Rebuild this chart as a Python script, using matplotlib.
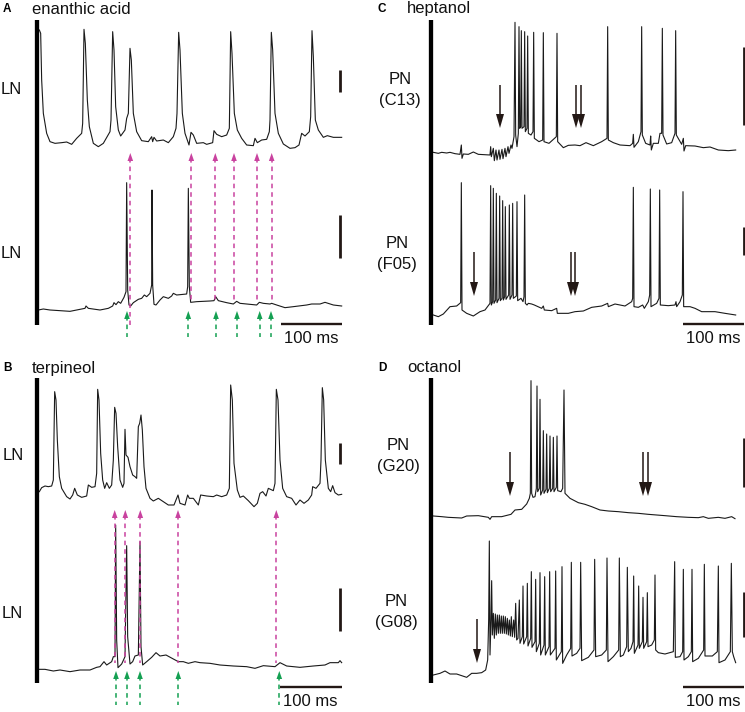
#!/usr/bin/env python3
import matplotlib
matplotlib.use("Agg")
import matplotlib.pyplot as plt
import numpy as np

plt.rcParams["font.family"] = ["Liberation Sans", "DejaVu Sans"]

# traces at 3x zoom, (x, y) in zoomed pixels
trace_a_top = [(118,90),(122,100),(125,240),(130,340),(140,400),(150,425),(165,430),(185,428),(200,426),(215,433),
    (230,415),(245,400),(248,370),(252,88),(256,130),(262,300),(268,380),(280,430),(295,440),(310,430),(330,395),
    (333,360),(338,95),(342,150),(347,320),(355,390),(362,408),(375,390),(380,355),(385,340),(390,145),(394,180),
    (400,340),(410,395),(425,422),(445,425),(455,410),(458,425),(462,412),(470,423),(490,420),(505,428),(520,410),
    (528,385),(531,340),(536,97),(540,150),(547,340),(555,400),(567,435),(573,397),(580,405),(590,430),(610,428),
    (620,433),(638,428),(642,392),(650,403),(665,410),(680,405),(688,385),(692,95),(696,160),(703,340),(712,390),
    (725,415),(740,435),(760,437),(765,415),(772,428),(785,420),(800,418),(808,395),(810,360),(814,97),(818,150),
    (825,340),(835,400),(850,432),(870,445),(885,443),(897,435),(905,400),(915,408),(928,395),(932,350),(936,92),
    (940,170),(946,360),(955,390),(970,412),(982,407),(1000,412),(1025,412)]
trace_a_bottom = [(115,420),(130,417),(150,420),(180,422),(210,424),(240,418),(255,415),(258,408),(265,415),(300,420),
    (325,415),(338,408),(342,398),(348,404),(355,395),(362,400),(372,382),(378,365),(380,38),(383,360),(387,405),
    (392,408),(400,398),(415,388),(425,385),(433,375),(440,380),(450,370),(455,345),(456,60),(458,345),(462,403),
    (468,405),(480,390),(490,380),(505,385),(515,378),(520,370),(530,375),(560,372),(563,350),(565,55),(568,350),
    (572,397),(590,395),(630,393),(642,392),(647,380),(655,392),(680,398),(700,402),(710,394),(720,400),(770,405),
    (778,397),(790,400),(810,402),(815,400),(830,405),(855,413),(880,410),(920,405),(935,402),(960,402),(975,397),
    (1000,405),(1025,408)]
trace_b_top = [(118,395),(125,383),(135,378),(145,380),(155,378),(160,360),(164,95),(168,120),(172,240),(178,350),
    (185,385),(200,410),(210,417),(218,405),(224,385),(232,405),(245,412),(260,408),(265,375),(275,382),(285,380),
    (290,340),(293,88),(297,120),(302,280),(308,360),(314,385),(320,368),(328,385),(335,375),(340,300),(344,142),
    (348,160),(353,260),(360,360),(368,382),(372,370),(375,208),(378,285),(384,292),(390,320),(398,345),(405,350),
    (410,355),(415,200),(419,190),(423,165),(427,210),(432,320),(438,385),(450,415),(460,423),(475,415),(490,425),
    (505,435),(522,435),(528,420),(534,405),(540,430),(555,435),(563,405),(568,415),(580,415),(595,435),(602,405),
    (620,408),(640,410),(650,405),(665,410),(680,405),(688,385),(692,75),(697,120),(702,310),(712,390),(720,412),
    (730,408),(745,422),(762,440),(772,430),(780,400),(788,395),(798,408),(805,385),(820,392),(825,370),(829,88),
    (834,120),(840,300),(848,385),(860,410),(875,415),(888,435),(900,420),(912,430),(925,420),(935,405),(938,380),
    (948,385),(960,370),(963,300),(967,83),(971,120),(976,300),(985,385),(992,395),(998,377),(1005,398),(1015,405),
    (1025,403)]
trace_b_bottom = [(115,448),(135,448),(160,453),(180,450),(210,455),(240,450),(270,450),(290,442),(300,440),(312,425),
    (320,435),(335,425),(340,410),(345,410),(347,15),(350,360),(354,443),(365,432),(375,410),(380,77),(383,350),
    (390,432),(398,425),(405,408),(415,405),(420,65),(423,380),(428,435),(440,425),(455,412),(468,398),(480,408),
    (498,405),(520,417),(535,425),(550,425),(565,430),(585,425),(600,428),(630,430),(660,435),(700,438),(740,440),
    (765,445),(790,437),(825,440),(840,428),(860,438),(900,442),(940,438),(975,435),(990,428),(1015,428),(1020,422),
    (1025,428)]
trace_c_top = [(175,457),(190,460),(200,457),(215,459),(225,457),(240,461),(255,463),(259,435),(261,475),(265,462),
    (280,463),(295,456),(310,463),(345,465),(347,440),(349,470),(355,445),(358,482),(363,450),(366,480),(372,450),
    (375,478),(381,448),(384,476),(390,445),(393,470),(399,440),(402,460),(408,435),(411,445),(417,410),(420,67),
    (422,405),(426,440),(430,400),(432,80),(434,385),(437,380),(439,92),(441,385),(447,380),(449,95),(451,395),
    (456,385),(458,108),(460,400),(468,405),(474,395),(476,97),(478,415),(492,425),(503,420),(505,98),(507,425),
    (522,430),(544,410),(546,100),(548,425),(565,443),(580,436),(600,435),(615,437),(633,428),(655,437),(680,425),
    (696,415),(698,80),(700,420),(715,428),(735,435),(765,437),(773,430),(775,403),(777,442),(790,425),(798,395),
    (800,80),(802,405),(812,430),(825,435),(827,408),(829,450),(835,430),(850,430),(855,400),(860,400),(862,85),
    (864,405),(875,432),(890,428),(900,400),(902,92),(904,405),(920,433),(925,415),(927,453),(932,437),(960,438),
    (985,443),(1005,441),(1030,450),(1060,452),(1082,450)]
trace_c_bottom = [(175,435),(190,440),(205,432),(225,410),(245,408),(257,398),(259,38),(261,420),(275,430),(295,438),
    (315,425),(330,420),(345,400),(347,47),(349,405),(353,395),(355,55),(357,400),(362,390),(364,70),(366,398),
    (372,385),(374,78),(376,392),(381,385),(383,92),(385,390),(389,380),(391,110),(393,388),(401,375),(403,105),
    (405,388),(411,375),(413,100),(415,385),(424,378),(426,95),(428,392),(438,385),(444,395),(447,380),(449,75),
    (451,400),(456,405),(460,400),(470,402),(478,405),(500,415),(505,408),(508,420),(530,422),(545,415),(547,430),
    (580,430),(600,425),(625,423),(650,412),(680,408),(698,400),(700,410),(720,402),(750,408),(770,395),(773,385),
    (775,52),(777,410),(790,412),(803,405),(808,415),(820,395),(824,375),(826,57),(828,410),(845,400),(852,385),
    (854,60),(856,405),(880,407),(900,405),(903,395),(905,410),(915,395),(922,375),(924,65),(926,410),(945,410),
    (960,415),(980,425),(1020,425),(1050,430),(1082,435)]
trace_d_top = [(175,468),(200,470),(220,472),(240,473),(260,474),(275,468),(310,467),(340,472),(345,478),(350,470),
    (380,470),(408,463),(420,450),(440,448),(455,432),(463,415),(466,400),(468,62),(470,400),(474,412),(480,410),
    (484,385),(486,78),(488,395),(493,385),(495,118),(497,405),(503,390),(505,212),(507,400),(513,388),(515,222),
    (517,398),(523,385),(525,228),(527,395),(533,385),(535,232),(537,395),(544,382),(546,228),(548,392),(558,395),
    (563,385),(567,90),(570,400),(585,415),(610,428),(630,433),(650,440),(675,450),(700,453),(730,455),(760,458),
    (790,460),(820,463),(870,467),(905,470),(940,472),(970,473),(985,470),(1000,475),(1030,472),(1050,475),
    (1070,470),(1080,476)]
trace_d_bottom = [(175,465),(195,460),(210,453),(225,462),(245,462),(275,472),(290,460),(305,460),(320,458),(332,450),
    (338,420),(341,300),(343,63),(345,405),(348,300),(350,182),(352,345),(355,280),(358,355),(361,282),(364,345),
    (367,285),(370,340),(373,285),(376,340),(379,288),(382,340),(385,288),(388,340),(391,290),(394,342),(397,295),
    (400,345),(403,300),(406,348),(409,290),(412,350),(416,300),(419,352),(422,250),(425,360),(429,355),(433,240),
    (435,370),(442,350),(444,198),(446,372),(455,350),(457,190),(459,378),(467,355),(469,155),(471,382),(480,365),
    (482,178),(484,395),(493,370),(495,158),(497,405),(507,375),(509,170),(511,405),(522,380),(524,155),(526,405),
    (540,385),(542,153),(544,420),(559,395),(561,140),(563,430),(575,405),(587,385),(589,127),(591,408),(605,400),
    (615,385),(617,127),(620,422),(640,412),(657,390),(659,118),(662,410),(680,405),(694,390),(696,114),(699,425),
    (715,410),(731,390),(733,114),(736,410),(745,405),(755,380),(757,142),(760,395),(768,385),(774,365),(776,168),
    (778,400),(789,375),(791,198),(793,385),(802,365),(804,232),(806,385),(815,365),(817,218),(819,380),(830,375),
    (838,360),(840,165),(842,390),(850,398),(870,402),(895,395),(899,125),(901,412),(915,410),(923,395),(925,148),
    (927,420),(940,410),(949,395),(951,148),(953,425),(970,415),(986,390),(988,133),(990,408),(1012,408),(1027,395),
    (1030,138),(1032,428),(1050,420),(1066,395),(1069,130),(1072,395),(1076,410),(1082,428)]

# dashed arrow positions, picture pixels
magenta_a_x = [130.3, 191.3, 215.3, 234, 257, 271.7]
magenta_a_end = [325, 303, 303, 303, 303, 303]
green_a_x = [127, 188.3, 216, 237, 259.7, 271]
magenta_b_x = [114.7, 125.3, 140.3, 178, 276.3]
green_b_x = [116, 127, 140, 178.3, 279.3]

# recording bars: x, top, bottom
scale_bars = [(340.3, 70, 92), (340.3, 215, 258), (340.3, 443, 464), (340.3, 588, 631),
              (743.5, 47, 125), (743.5, 227, 255), (743.5, 438, 487), (743.5, 592, 637)]
black_arrows = [(500, 85, 128), (576, 85, 128), (581, 85, 128),
                (474, 252, 296), (571, 252, 296), (575, 252, 296),
                (510, 452, 496), (643, 452, 496), (648, 452, 496),
                (477, 619, 663)]

INK = "#231815"
MAGENTA = "#c9429f"
GREEN = "#14a052"

fig = plt.figure(figsize=(7.45, 7.12), dpi=100)
ax = fig.add_axes([0, 0, 1, 1])
ax.set_xlim(0, 745)
ax.set_ylim(712, 0)
ax.axis("off")


def draw_trace(points, x0, y0):
    """ Crop coordinates (3x) back to picture pixels """
    pts = np.array(points, dtype=float)
    ax.plot(x0 + pts[:, 0] / 3, y0 + pts[:, 1] / 3, color="#1a1a1a", lw=0.8, solid_joinstyle="round")


def up_arrow(x, tip, tail, color):
    """ Dashed arrow pointing up """
    ax.plot([x, x], [tip + 5, tail], color=color, lw=1.1, dashes=(3, 2.6))
    ax.fill([x - 2.8, x, x + 2.8], [tip + 8, tip, tip + 8], color=color, lw=0)


def down_arrow(x, tail, tip):
    """ Solid arrow pointing down """
    ax.plot([x, x], [tail, tip - 8], color=INK, lw=1.1, solid_capstyle="butt")
    ax.fill([x - 4, x, x + 4], [tip - 14, tip, tip - 14], color=INK, lw=0)


draw_trace(trace_a_top, 0, 0)
draw_trace(trace_a_bottom, 0, 170)
draw_trace(trace_b_top, 0, 360)
draw_trace(trace_b_bottom, 0, 520)
draw_trace(trace_c_top, 375, 0)
draw_trace(trace_c_bottom, 375, 170)
draw_trace(trace_d_top, 375, 360)
draw_trace(trace_d_bottom, 375, 520)

# stimulus bars on the left of each panel
for x, top, bottom in [(36.5, 20, 325), (36.5, 378, 683), (431.3, 20, 325), (431.3, 378, 683)]:
    ax.plot([x, x], [top, bottom], color="black", lw=3.1, solid_capstyle="butt")

for x, top, bottom in scale_bars:
    ax.plot([x, x], [top, bottom], color=INK, lw=2.0, solid_capstyle="butt")

for x0, x1, y in [(281, 342, 324), (280, 342, 687), (683, 744, 324), (683, 744, 687)]:
    ax.plot([x0, x1], [y, y], color=INK, lw=1.7, solid_capstyle="butt")
    ax.text((x0 + x1) / 2 - 0.5, y + 14.5, "100 ms", fontsize=12, ha="center", va="center", color="#111111")

for x, end in zip(magenta_a_x, magenta_a_end):
    up_arrow(x, 153, end, MAGENTA)
for x in green_a_x:
    up_arrow(x, 311, 337, GREEN)
for x in magenta_b_x:
    up_arrow(x, 510, 663, MAGENTA)
for x in green_b_x:
    up_arrow(x, 671, 705, GREEN)

for x, tail, tip in black_arrows:
    down_arrow(x, tail, tip)

for label, x, y in [("A", 3, 9), ("B", 3, 368), ("C", 378, 9), ("D", 378, 368)]:
    ax.text(x, y, label, fontsize=8.5, fontweight="bold", ha="left", va="center")
for label, x, y in [("enanthic acid", 32, 9), ("terpineol", 32, 368), ("heptanol", 407, 9), ("octanol", 407, 368),
                    ("LN", 0.5, 89), ("LN", 1, 253), ("LN", 3, 455), ("LN", 2, 613)]:
    ax.text(x, y, label, fontsize=12, ha="left", va="center", color="#111111")
for label, x, y in [("PN", 400, 80), ("(C13)", 400, 100), ("PN", 397, 243), ("(F05)", 397, 264),
                    ("PN", 398, 445), ("(G20)", 398, 467), ("PN", 396, 602), ("(G08)", 396, 623)]:
    ax.text(x, y, label, fontsize=12, ha="center", va="center", color="#111111")

fig.savefig("out.png", dpi=100)
